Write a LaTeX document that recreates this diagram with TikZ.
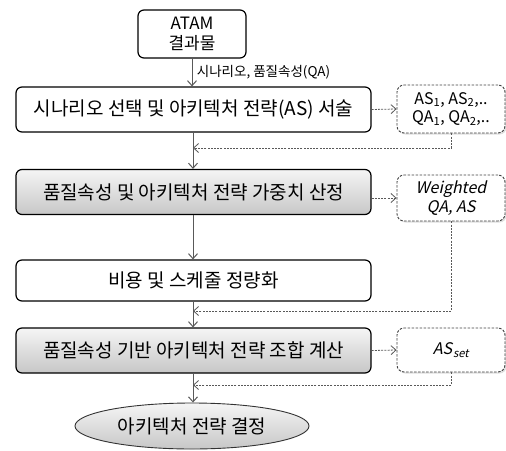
\documentclass[tikz,border=0pt]{standalone}
\usepackage{fontspec}
\setmainfont{Noto Sans CJK KR}
\newfontfamily\slantfont[FakeSlant=0.22]{Noto Sans CJK KR}
\usetikzlibrary{arrows.meta,shapes.geometric,calc,shadows}
\tikzset{
  solidbox/.style={draw=black,line width=1.2pt,rounded corners=6pt,align=center,inner sep=0pt,font=\fontsize{19}{22}\selectfont,minimum width=355pt},
  whitebox/.style={solidbox,fill=white},
  graybox/.style={solidbox,top color=white!96!black,bottom color=black!22},
  dbox/.style={draw=black!75,dashed,dash pattern=on 2.5pt off 1.5pt,line width=0.9pt,rounded corners=7pt,fill=white,align=center,inner sep=0pt,minimum width=108pt,font=\fontsize{15}{17}\selectfont,drop shadow={shadow xshift=1.5pt,shadow yshift=-1.5pt,opacity=0.25}},
  flow/.style={draw=black!65,line width=1pt,-{Straight Barb[length=5pt,width=9pt]}},
  dflow/.style={draw=black!65,line width=0.8pt,dash pattern=on 2pt off 1.2pt,-{Straight Barb[length=5pt,width=9pt]}},
}
\begin{document}
\begin{tikzpicture}[x=1pt,y=-1pt]
\useasboundingbox (0,0) rectangle (506,450);
\node[solidbox,fill=white,minimum width=108pt,minimum height=48pt,font=\fontsize{17}{20}\selectfont] (atam) at (192,34) {ATAM\\결과물};
\node[whitebox,minimum height=45pt] (s1) at (193.5,109.5) {시나리오 선택 및 아키텍처 전략(AS) 서술};
\node[graybox,minimum height=45pt] (s2) at (193.5,192) {품질속성 및 아키텍처 전략 가중치 산정};
\node[whitebox,minimum height=41pt] (s3) at (193.5,280.5) {비용 및 스케줄 정량화};
\node[graybox,minimum height=45pt] (s4) at (193.5,350.5) {품질속성 기반 아키텍처 전략 조합 계산};
\node[draw=black!80,line width=0.9pt,ellipse,top color=white!96!black,bottom color=black!22,minimum width=234pt,minimum height=46pt,inner sep=0pt,font=\fontsize{19}{22}\selectfont] (e) at (192,426) {아키텍처 전략 결정};

\node[dbox,minimum height=48pt,font=\fontsize{16}{18.5}\selectfont] (b1) at (451,109) {AS\textsubscript{1}, AS\textsubscript{2},..\\QA\textsubscript{1}, QA\textsubscript{2},..};
\node[dbox,minimum height=46pt,font=\fontsize{16}{19}\selectfont\slantfont] (b2) at (451,198) {Weighted\\QA, AS};
\node[dbox,minimum height=44pt,font=\fontsize{16}{18}\selectfont\slantfont] (b3) at (451,350) {AS\kern1pt\textsubscript{set}};

\coordinate (m1) at (193,148);
\coordinate (m2) at (193,311);
\coordinate (m3) at (193,385);

\draw[flow] (atam.south) -- (atam.south |- s1.north) node[midway,right=1pt,font=\fontsize{13.5}{15}\selectfont,text=black] {시나리오, 품질속성(QA)};
\draw[flow] (m1 |- s1.south) -- (m1 |- s2.north);
\draw[flow] (m1 |- s2.south) -- (m1 |- s3.north);
\draw[flow] (m1 |- s3.south) -- (m1 |- s4.north);
\draw[flow] (m1 |- s4.south) -- (m1 |- e.north);

\draw[dflow] (s1.east) -- (b1.west);
\draw[dflow] (s2.east |- b2.west) -- (b2.west);
\draw[dflow] (s4.east) -- (b3.west);

\draw[dflow] (b1.south) -- (b1.south |- m1) -- (m1);
\draw[dflow] (b2.south) -- (b2.south |- m2) -- (m2);
\draw[dflow] (b3.south) -- (b3.south |- m3) -- (m3);
\end{tikzpicture}
\end{document}
